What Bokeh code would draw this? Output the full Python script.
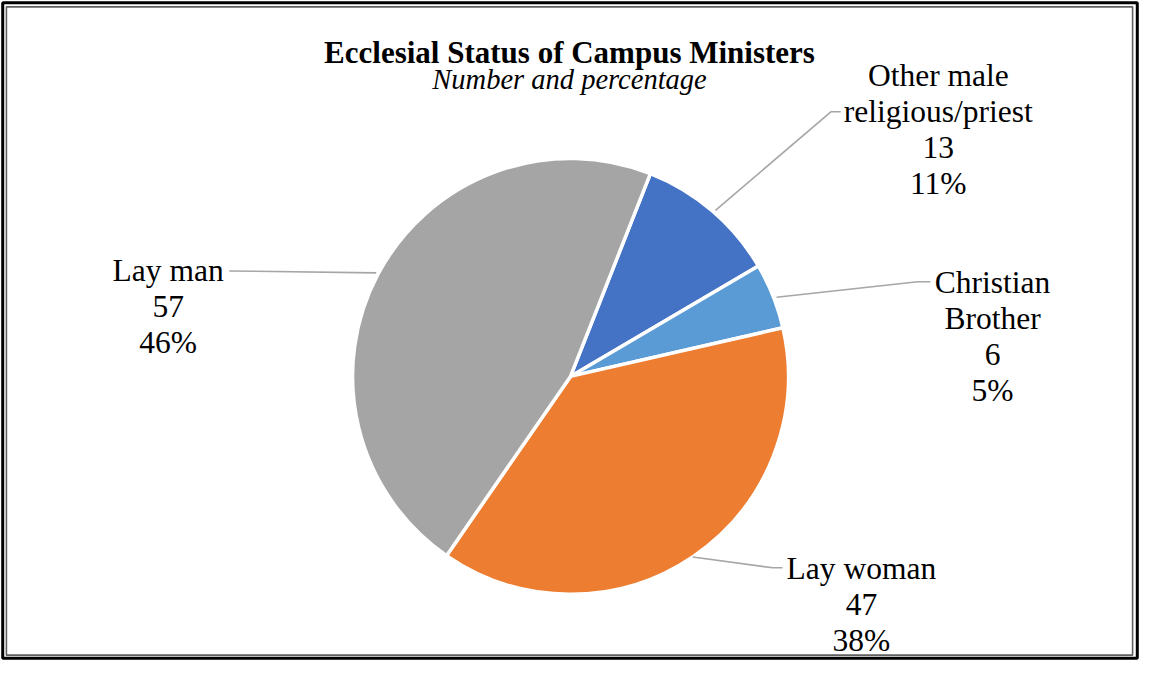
from bokeh.plotting import figure
from bokeh.models import Range1d, ColumnDataSource
from bokeh.core.properties import value
from bokeh.embed import file_html
from bokeh.resources import INLINE
import math

# ---- data ----
categories = ["Other male religious/priest", "Christian Brother", "Lay woman", "Lay man"]
counts = [13, 6, 47, 57]
percent_labels = ["11%", "5%", "38%", "46%"]
label_lines = [["Other male", "religious/priest"], ["Christian", "Brother"], ["Lay woman"], ["Lay man"]]
colors = ["#4472C4", "#5B9BD5", "#ED7D31", "#A5A5A5"]
title_text = "Ecclesial Status of Campus Ministers"
subtitle_text = "Number and percentage"

# ---- layout (reference pixel coordinates, y measured downward) ----
W, H = 1155, 677
FW, FH = 1139, 661
def Y(y):
    return H - y

cx, cy, r = 578, 385, 221
first_angle = 21.5  # degrees clockwise from 12 o'clock

p = figure(width=FW, height=FH, output_backend="svg", toolbar_location=None,
           x_range=Range1d(0, W), y_range=Range1d(0, H), min_border=0)
p.axis.visible = False
p.grid.visible = False
p.outline_line_color = None
p.background_fill_color = "white"
p.border_fill_color = "white"

# borders
p.rect(x=[W / 2], y=[Y(H / 2 - 0.5)], width=W - 4.5, height=H - 5.5,
       fill_color=None, line_color="black", line_width=3)
p.rect(x=[W / 2 - 0.5], y=[Y(H / 2)], width=W - 13, height=H - 13,
       fill_color=None, line_color="#606060", line_width=1.6)

# wedges
total = sum(counts)
starts, ends = [], []
acc = first_angle
for c in counts:
    a1 = acc
    a2 = acc + 360.0 * c / total
    starts.append(math.radians(90 - a2))
    ends.append(math.radians(90 - a1))
    acc = a2
src = ColumnDataSource(dict(start=starts, end=ends, color=colors, cat=categories))
p.wedge(x=cx, y=Y(cy), radius=r, start_angle="start", end_angle="end",
        fill_color="color", line_color="white", line_width=3.5, source=src)

# leader lines
leaders = [
    ([725, 842, 852], [215, 114, 114]),
    ([787, 930, 943], [304, 288, 288]),
    ([702, 783, 793], [570, 581, 581]),
    ([381, 232], [279, 277]),
]
for xs, ys in leaders:
    p.line(xs, [Y(v) for v in ys], line_color="#A6A6A6", line_width=1.6)

# data labels
label_pos = [(951, 77), (1006, 289), (873, 582), (170, 277)]
line_step = 36.7
lab_font = value("Liberation Serif")
for i in range(len(categories)):
    lines = label_lines[i] + [str(counts[i]), percent_labels[i]]
    x0, y0 = label_pos[i]
    p.text(x=[x0] * len(lines), y=[Y(y0 + k * line_step) for k in range(len(lines))],
           text=lines, text_font=lab_font, text_font_size="31.5px",
           text_align="center", text_baseline="alphabetic", text_color="black")

# title
p.text(x=[577], y=[Y(53)], text=[title_text], text_font=lab_font,
       text_font_size="31px", text_font_style="bold", text_align="center",
       text_baseline="alphabetic", text_color="black")
p.text(x=[577], y=[Y(81)], text=[subtitle_text], text_font=lab_font,
       text_font_size="28.5px", text_font_style="italic", text_align="center",
       text_baseline="alphabetic", text_color="black")

open("out.html", "w").write(file_html(p, INLINE))
